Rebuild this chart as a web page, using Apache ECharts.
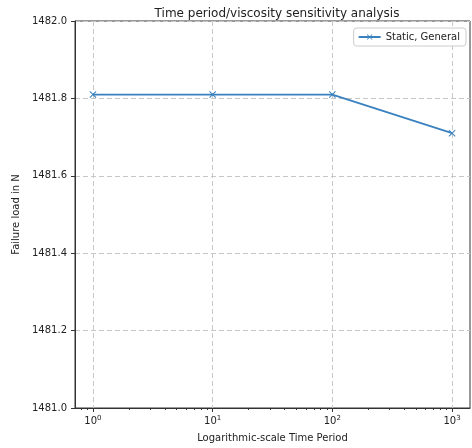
<!DOCTYPE html>
<html>
<head>
<meta charset="utf-8">
<script src="https://cdn.jsdelivr.net/npm/echarts@6/dist/echarts.min.js"></script>
<style>
  html, body { margin: 0; padding: 0; background: #fff; }
  #chart { width: 472px; height: 448px; }
</style>
</head>
<body>
<div id="chart"></div>
<script>
// Time period sweep (log scale) and the resulting failure load
const periods = [1, 10, 100, 1000];
const failureLoad = [1481.81, 1481.81, 1481.81, 1481.71];
const seriesName = 'Static, General';

// Axis ticks
const xMajorTicks = [1, 10, 100, 1000];
const xMinorTicks = [0.8, 0.9, 2, 3, 4, 5, 6, 7, 8, 9, 20, 30, 40, 50, 60, 70, 80, 90,
                     200, 300, 400, 500, 600, 700, 800, 900];
const yMin = 1481.0, yMax = 1482.0, yStep = 0.2;

const FONT = 'DejaVu Sans';
const xPad = Math.pow(10, 0.15); // 5% margin of the 3-decade span on each side

const chart = echarts.init(document.getElementById('chart'), null, { renderer: 'canvas' });

const crossPath = 'path://M0,1L1,0L5,4L9,0L10,1L6,5L10,9L9,10L5,6L1,10L0,9L4,5Z';

chart.setOption({
  animation: false,
  backgroundColor: '#fff',
  textStyle: { fontFamily: FONT },
  title: {
    text: 'Time period/viscosity sensitivity analysis',
    left: 272,
    textAlign: 'center',
    top: 3,
    textStyle: { fontFamily: FONT, fontSize: 12, fontWeight: 'normal', color: '#222' }
  },
  legend: {
    right: 6,
    top: 28,
    orient: 'vertical',
    backgroundColor: 'rgba(255,255,255,0.8)',
    borderColor: '#cccccc',
    borderWidth: 1,
    borderRadius: 3,
    padding: [4, 6, 4, 4],
    itemWidth: 22,
    itemHeight: 7,
    itemGap: 6,
    textStyle: { fontFamily: FONT, fontSize: 10, color: '#222' },
    data: [seriesName]
  },
  grid: {
    left: 75,
    right: 2,
    top: 21,
    bottom: 40,
    show: true,
    borderColor: '#333',
    borderWidth: 1,
    backgroundColor: 'transparent'
  },
  xAxis: [
    {
      type: 'log',
      logBase: 10,
      min: 1 / xPad,
      max: 1000 * xPad,
      name: 'Logarithmic-scale Time Period',
      nameLocation: 'middle',
      nameGap: 25,
      nameTextStyle: { fontFamily: FONT, fontSize: 10, color: '#222' },
      axisLine: { show: true, lineStyle: { color: '#333', width: 1 } },
      axisTick: {
        show: true, inside: false, length: 4,
        customValues: xMajorTicks,
        lineStyle: { color: '#333', width: 1 }
      },
      axisLabel: {
        customValues: xMajorTicks,
        margin: 7,
        color: '#222',
        fontFamily: FONT,
        formatter: function (v) {
          const e = Math.round(Math.log10(v));
          return '{b|10}{s|' + e + '}';
        },
        rich: {
          b: { fontFamily: FONT, fontSize: 10, color: '#222' },
          s: { fontFamily: FONT, fontSize: 7, color: '#222', padding: [0, 0, 6, 0] }
        }
      },
      splitLine: {
        show: true,
        lineStyle: { color: '#c8c8c8', type: [5, 3], width: 1 }
      },
      minorTick: { show: false }
    },
    {
      // minor ticks at 2..9 of each decade
      type: 'log',
      logBase: 10,
      min: 1 / xPad,
      max: 1000 * xPad,
      position: 'bottom',
      axisLine: { show: false },
      axisTick: {
        show: true, inside: false, length: 2,
        customValues: xMinorTicks,
        lineStyle: { color: '#333', width: 1 }
      },
      axisLabel: { show: false },
      splitLine: { show: false }
    }
  ],
  yAxis: {
    type: 'value',
    min: yMin,
    max: yMax,
    interval: yStep,
    name: 'Failure load in N',
    nameLocation: 'middle',
    nameGap: 44,
    nameRotate: 90,
    nameTextStyle: { fontFamily: FONT, fontSize: 10, color: '#222' },
    axisLine: { show: true, lineStyle: { color: '#333', width: 1 } },
    axisTick: { show: true, inside: false, length: 4, lineStyle: { color: '#333', width: 1 } },
    axisLabel: {
      margin: 8,
      color: '#222',
      fontFamily: FONT,
      fontSize: 10,
      formatter: function (v) { return v.toFixed(1); }
    },
    splitLine: {
      show: true,
      lineStyle: { color: '#c8c8c8', type: [5, 3], width: 1 }
    }
  },
  series: [
    {
      name: seriesName,
      type: 'line',
      xAxisIndex: 0,
      data: periods.map((p, i) => [p, failureLoad[i]]),
      symbol: crossPath,
      symbolSize: 7,
      showAllSymbol: true,
      lineStyle: { color: '#3a82bf', width: 1.8 },
      itemStyle: { color: '#3a82bf' }
    }
  ]
});
</script>
</body>
</html>
